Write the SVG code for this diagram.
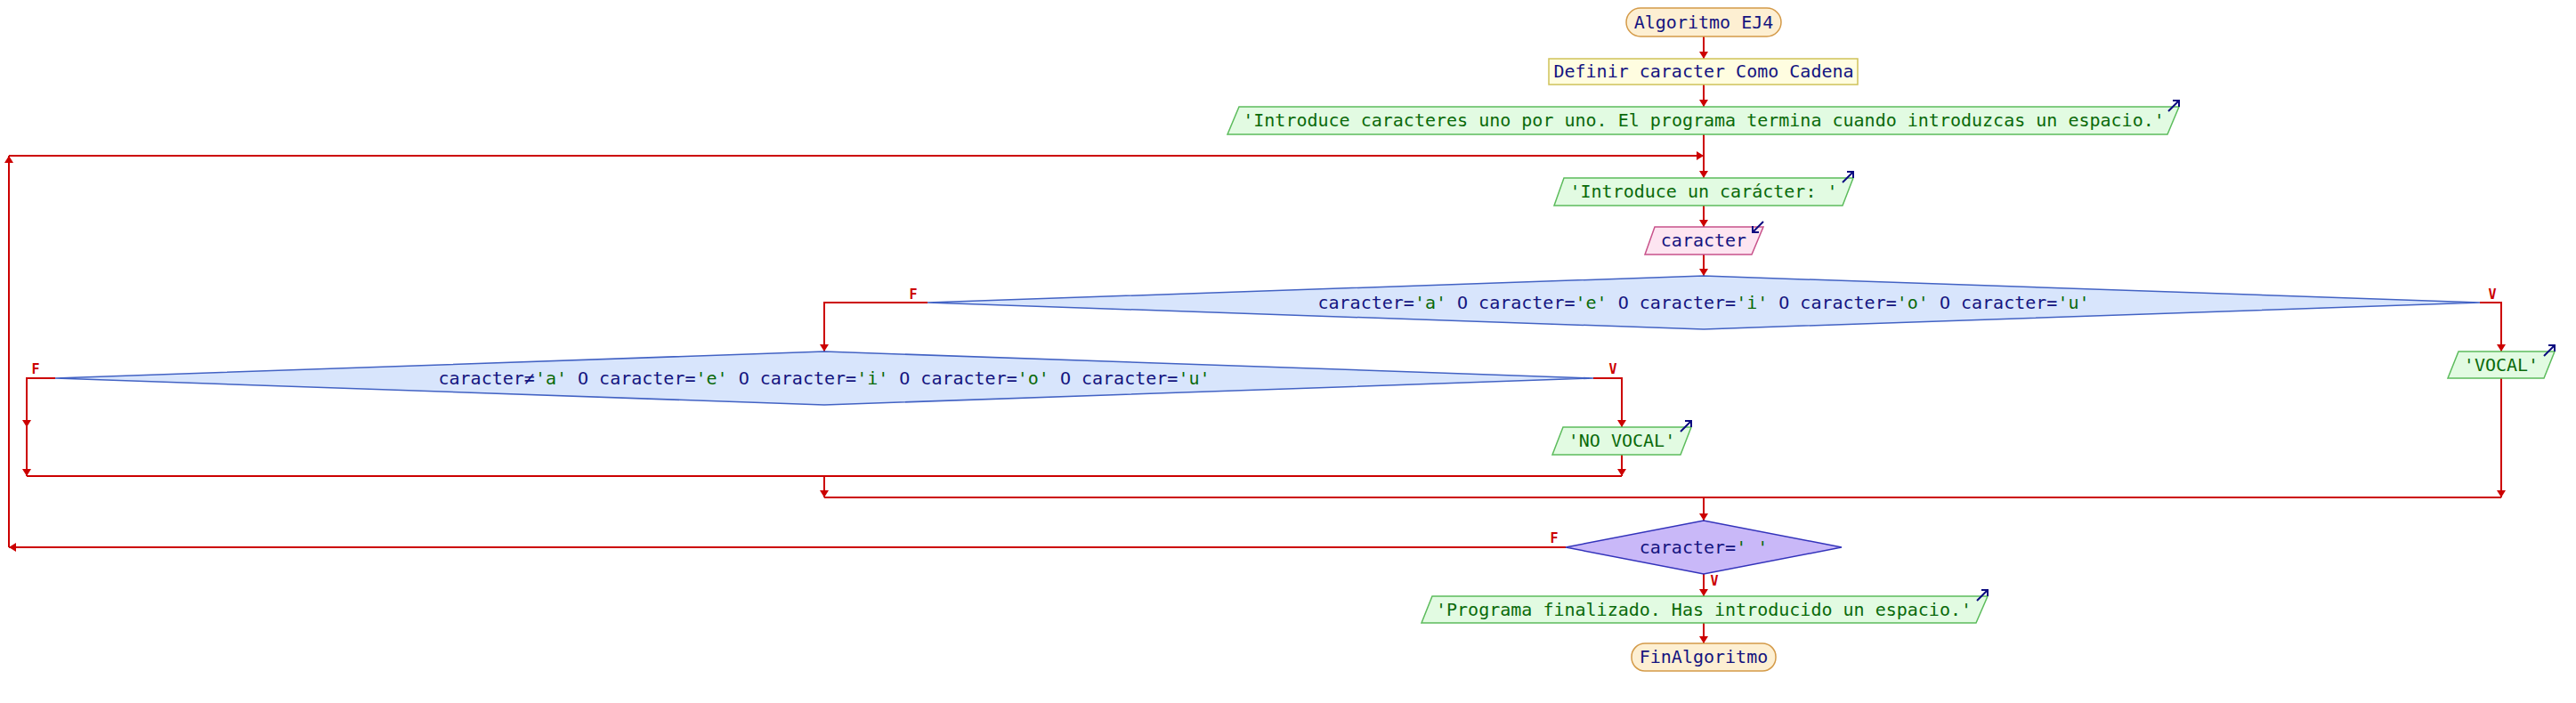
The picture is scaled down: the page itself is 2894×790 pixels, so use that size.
<svg xmlns="http://www.w3.org/2000/svg" width="2894" height="790" viewBox="0 0 2894 790">
<style>
text{font-family:"DejaVu Sans Mono","Liberation Mono",monospace;font-size:20px;text-anchor:middle;fill:#141480}
.str{fill:#0a6a0a}
.out text{fill:#0a6a0a}
.lbl{font-size:15px;font-weight:bold;fill:#cc0000;text-anchor:middle}
.term{fill:#fdefd2;stroke:#d49a48;stroke-width:1.5}
.def{fill:#fffde0;stroke:#cfc25a;stroke-width:1.5}
.outp{fill:#e2fbe2;stroke:#5cbc5c;stroke-width:1.5}
.inp{fill:#fde5f1;stroke:#c8528a;stroke-width:1.5}
.dec{fill:#d8e5fc;stroke:#4262c4;stroke-width:1.5}
.dec3{fill:#c9b8f8;stroke:#3333bb;stroke-width:1.5}
.con path{fill:none;stroke:#cc0000;stroke-width:2;marker-end:url(#ah)}
.con path.nm{marker-end:none}
.ico{fill:none;stroke:#0c0c80;stroke-width:2}
</style>
<defs>
<marker id="ah" viewBox="0 0 8 10" refX="8" refY="5" markerWidth="8" markerHeight="10" markerUnits="userSpaceOnUse" orient="auto">
<path d="M0,0 L8,5 L0,10 z" fill="#cc0000"/>
</marker>
<path id="icoOut" class="ico" d="M0 12 L12 0 M5 0 L12 0 L12 7"/>
<path id="icoIn" class="ico" d="M12 0 L0 12 M0 5 L0 12 L7 12"/>
</defs>

<g id="connectors" class="con">
<path d="M1914 41 V66"/>
<path d="M1914 95 V120"/>
<path d="M1914 151 V200"/>
<path d="M1914 231 V255"/>
<path d="M1914 286 V310"/>
<path d="M1042 340 H926 V395"/>
<path d="M2786 340 H2810 V395"/>
<path d="M62 425 H30 V480"/>
<path d="M30 480 V535"/>
<path d="M1790 425 H1822 V480"/>
<path d="M1822 511 V535"/>
<path class="nm" d="M30 535 H1822"/>
<path d="M926 535 V559"/>
<path d="M2810 425 V559"/>
<path class="nm" d="M926 559 H2810"/>
<path d="M1914 559 V585"/>
<path d="M1759 615 H10"/>
<path d="M10 615 V175"/>
<path d="M10 175 H1914"/>
<path d="M1914 645 V670"/>
<path d="M1914 700 V723"/>
<text class="lbl" x="1026" y="336">F</text>
<text class="lbl" x="2800" y="336">V</text>
<text class="lbl" x="40" y="420">F</text>
<text class="lbl" x="1812" y="420">V</text>
<text class="lbl" x="1746" y="610">F</text>
<text class="lbl" x="1926" y="658">V</text>
</g>

<g id="start">
<rect class="term" x="1827" y="9" width="174" height="32" rx="16"/>
<text x="1914" y="32">Algoritmo EJ4</text>
</g>

<g id="define">
<rect class="def" x="1740" y="66" width="347" height="29"/>
<text x="1914" y="87">Definir caracter Como Cadena</text>
</g>

<g id="out1" class="out">
<polygon class="outp" points="1392,120 2448,120 2435,151 1379,151"/>
<text x="1914" y="142">'Introduce caracteres uno por uno. El programa termina cuando introduzcas un espacio.'</text>
<use href="#icoOut" x="2436" y="113"/>
</g>

<g id="out2" class="out">
<polygon class="outp" points="1757,200 2082,200 2070,231 1746,231"/>
<text x="1914" y="222">'Introduce un carácter: '</text>
<use href="#icoOut" x="2070" y="193"/>
</g>

<g id="read">
<polygon class="inp" points="1859,255 1981,255 1968,286 1848,286"/>
<text x="1914" y="277">caracter</text>
<use href="#icoIn" x="1969" y="249"/>
</g>

<g id="dec1">
<polygon class="dec" points="1042,340 1914,310 2786,340 1914,370"/>
<text x="1914" y="347">caracter=<tspan class="str">'a'</tspan> O caracter=<tspan class="str">'e'</tspan> O caracter=<tspan class="str">'i'</tspan> O caracter=<tspan class="str">'o'</tspan> O caracter=<tspan class="str">'u'</tspan></text>
</g>

<g id="dec2">
<polygon class="dec" points="62,425 926,395 1790,425 926,455"/>
<text x="926" y="432">caracter≠<tspan class="str">'a'</tspan> O caracter=<tspan class="str">'e'</tspan> O caracter=<tspan class="str">'i'</tspan> O caracter=<tspan class="str">'o'</tspan> O caracter=<tspan class="str">'u'</tspan></text>
</g>

<g id="vocal" class="out">
<polygon class="outp" points="2762,395 2870,395 2858,425 2750,425"/>
<text x="2810" y="417">'VOCAL'</text>
<use href="#icoOut" x="2858" y="388"/>
</g>

<g id="novocal" class="out">
<polygon class="outp" points="1756,480 1900,480 1888,511 1744,511"/>
<text x="1822" y="502">'NO VOCAL'</text>
<use href="#icoOut" x="1888" y="473"/>
</g>

<g id="dec3">
<polygon class="dec3" points="1759,615 1914,585 2069,615 1914,645"/>
<text x="1914" y="622">caracter=<tspan class="str">' '</tspan></text>
</g>

<g id="out3" class="out">
<polygon class="outp" points="1609,670 2233,670 2220,700 1597,700"/>
<text x="1914" y="692">'Programa finalizado. Has introducido un espacio.'</text>
<use href="#icoOut" x="2221" y="663"/>
</g>

<g id="end">
<rect class="term" x="1833" y="723" width="162" height="31" rx="15"/>
<text x="1914" y="745">FinAlgoritmo</text>
</g>
</svg>
